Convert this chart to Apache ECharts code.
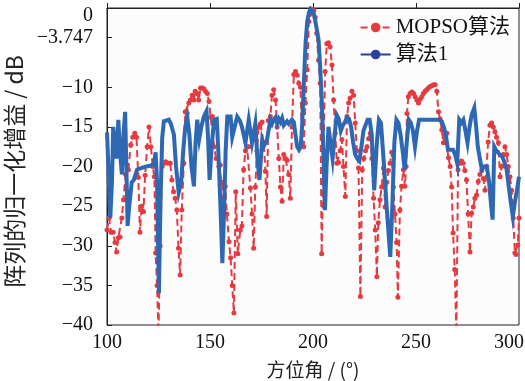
<!DOCTYPE html>
<html>
<head>
<meta charset="utf-8">
<script src="https://cdn.jsdelivr.net/npm/echarts@6/dist/echarts.min.js"></script>
<style>
html,body{margin:0;padding:0;background:#ffffff;}
#chart{width:525px;height:381px;}
</style>
</head>
<body>
<div id="chart"></div>
<script>
// ---- data ----
const seriesNames = ['MOPSO算法', '算法1'];
const yTickValues = [-40, -35, -30, -25, -20, -15, -10, -3.747, 0];
const xTickValues = [100, 150, 200, 250, 300];

const mopsoAngle = [100,101,102,103,103.9,104.7,105.5,106.3,107.2,108,109,110.4,111.5,112.5,113.5,114.3,115.2,116,116.8,117.7,118.5,119.5,120.4,121.3,122.2,123,123.6,124.3,125,125.8,126.8,127.6,128.5,129.5,130.7,131.5,132.3,133.1,133.9,134.7,135.5,136.3,137.3,138,138.9,139.7,140.5,141.4,142.2,142.8,143.8,144.5,145.4,146.2,147,147.8,148.7,149.5,150.3,151.1,152,153,154.3,155,155.8,156.6,157.4,158.2,159.2,160,160.8,161.6,162.5,163.5,164.7,165.5,166.3,167.2,168,168.8,169.6,170.4,171.2,172,172.8,173.6,174.5,175.3,176.1,176.9,177.5,178.3,179.3,180.1,180.9,181.8,182.6,183.4,184.2,185,185.8,186.6,187.4,188.2,189,189.8,190.7,191.5,192.3,193.1,193.9,194.7,195.5,196.3,197.2,198,198.8,199.6,200.4,201.1,201.8,202.7,203.5,204.2,205.1,205.9,206.7,207.5,208.3,209.2,210,210.8,211.6,212.4,213.2,214,214.8,215.7,216.5,217.3,218,218.9,219.7,220.5,221.3,222.1,223,223.9,224.7,225.5,226.2,227,227.8,228.6,229.4,230.2,231,231.7,232.5,233.3,234.2,235,235.8,236.6,237.4,238.2,239,239.8,240.6,241.2,242.2,243,243.9,244.6,245.2,245.6,246.3,247.1,248,248.8,249.6,250.4,251.2,252,252.8,253.6,254.4,255.2,256,256.9,257.7,258.5,259.3,260.1,260.9,261.7,262.5,263.3,264.1,265,265.8,266.6,267.3,268,268.8,269.6,270.4,271.3,272.1,272.9,273.7,274.5,275.3,276.2,277,277.8,278.6,279.4,280.2,281,281.9,282.7,283.5,284.3,285,285.9,286.7,287.5,288.3,289.1,290,290.8,291.6,292.4,293.2,294,294.8,295.6,296.4,297.2,298,298.6,299.4,300];
const mopsoGain = [-28,-26.5,-28.3,-28.3,-29.6,-30.8,-29,-28.9,-26.5,-24.2,-21,-20.4,-17.3,-16.3,-15.8,-16.3,-21.4,-28.3,-25,-25.7,-21.1,-17.5,-15,-17.5,-20,-21.3,-30.9,-35,-41,-30,-20,-19.6,-19.4,-19.6,-19.6,-21.7,-23.2,-24,-25.5,-30.3,-33.7,-25.5,-19.6,-13.1,-13.3,-12,-11.6,-11,-11.6,-10.5,-10.8,-11.6,-10.1,-10.1,-10.2,-10.5,-10.8,-11.8,-13.8,-13.7,-17.5,-19,-20,-19.8,-22,-24,-22.5,-26,-29.5,-31.5,-35,-38.5,-23.2,-31,-28,-27.5,-20.4,-18,-17.5,-17.5,-22.7,-26,-30.3,-22.6,-18,-15,-14.6,-14.4,-17,-20.6,-26.3,-14.2,-13.7,-11,-10.3,-11.6,-15,-19,-22.6,-24.4,-18.5,-19,-19.2,-21,-24,-15,-8.4,-8,-8.5,-9.5,-10,-17,-17.5,-12,-7.8,-1.7,-0.8,-0.2,-0.3,-1.2,-3.2,-6.6,-9.5,-31,-18,-8,-4.5,-4.4,-4.9,-7.2,-11.6,-15.8,-19.6,-19.5,-18,-16.6,-20,-23.8,-13.7,-12,-11.4,-10.5,-11,-14.5,-18,-20.2,-36.4,-20.4,-19,-18,-17.5,-16.5,-15.8,-19,-24,-28,-33.9,-27.1,-24.2,-22.6,-20.2,-25.1,-22,-20.5,-19.6,-18.2,-22.6,-26,-29.6,-36.5,-25.5,-22.5,-20.4,-22.5,-20,-13.3,-11.2,-10.8,-10.6,-10.8,-11.2,-11.6,-12,-11.5,-11.2,-10.8,-10.5,-10.3,-10.1,-9.9,-9.8,-9.7,-9.7,-10.5,-13.1,-14,-15.4,-17,-16,-15.8,-18.9,-20,-22.6,-28.4,-33,-41,-20.4,-19.6,-19.3,-19.6,-20.5,-21.7,-26,-30.8,-25.9,-25.1,-24,-23.6,-21.9,-21,-20.5,-21.5,-23,-20,-16.9,-14.8,-14.5,-15,-15.6,-16.3,-17,-21.3,-20,-18.5,-17.5,-18.5,-20,-21.3,-23,-26.5,-30.9,-31.1,-29.9,-26.5];

const algoAngle = [100,100.8,101.6,102.4,103,103.8,104.6,105.5,106.3,107.2,108,108.8,109.4,110,110.8,112,113,114.6,116.5,119,121,122.8,123.6,124.3,125.2,126,126.8,127.6,128.5,130,131,132.5,133.5,134.8,136,137,138,139,140,141,142.2,143,143.8,144.8,145.8,147,148.3,149,149.8,150.8,152,153.3,154.2,155.2,156,156.8,157.6,158.4,160,160.8,162,163.2,164.5,165.5,167.2,168.8,170.4,172,173,174,175.3,176,177.7,179.3,180.1,180.9,181.8,182.6,183.4,184.2,185,185.8,186.6,187.4,188.2,189,189.8,190.7,191.5,192.3,193.2,194,194.7,195.5,196.4,197.2,198,198.8,199.6,200.4,201.5,202.7,203.5,204.3,205,205.8,206.6,207.5,208.5,209.5,210.5,211.5,212.5,213.5,214.5,215.5,216.5,217.5,218.5,219.5,220.5,221.5,222.5,223.5,224.5,225.5,226.5,227.5,228.5,229.7,231,232,233,234.5,236,237.5,238.5,239.5,240.5,241.5,242.5,243.5,244.5,245.5,246.5,247.5,248.5,249.5,250.5,251.5,253,255,257,259,261,262.5,263.5,264.5,265.5,266.5,268,269,270,271,272,273,274,275,276,277,278.3,279.2,280,281,282,283,284.4,285.5,286.5,287.2,288,289,290,291,292,293,294,295,296,297,298,299,300];
const algoGain = [-15.7,-21,-26.5,-22,-15,-17,-19,-14.1,-18,-21,-16,-13.1,-20,-27.5,-25,-22,-21.7,-20.4,-20.2,-20,-19.9,-19.7,-18.2,-22,-36,-24,-16.4,-14.3,-14.1,-14.1,-14.6,-16,-20,-23.3,-22,-18,-15,-13.8,-16,-20,-22.5,-17,-14.1,-16.5,-15,-13.7,-13,-16,-21.7,-17.5,-14.1,-14,-19,-26,-32.2,-26,-18,-13.7,-13.7,-16.3,-15,-13.7,-14.2,-15,-17,-14.1,-17,-14.6,-19,-21.7,-16.8,-17.5,-16.6,-14.1,-14.6,-14.1,-13.8,-14.6,-14,-14.4,-13.9,-14.8,-15,-14.3,-14.6,-14.5,-14.1,-14.4,-16,-17.5,-17.9,-17.5,-15,-9.8,-4.4,-1.7,-0.6,-0.1,-0.1,-0.7,-2.2,-4,-7.5,-12,-18,-25.5,-20,-15,-17,-19,-16,-13.5,-14,-15.5,-14.8,-14.4,-13.8,-14,-15,-17,-18.5,-19,-19.3,-17.5,-15.5,-14.8,-14.1,-14.1,-16,-23,-17,-14.1,-14.5,-20,-26,-31.4,-25,-17,-14.1,-14.5,-16,-18,-20.4,-17,-14.1,-14.5,-15.5,-17.5,-15.5,-14.1,-14.1,-14.1,-14.1,-14.1,-14.1,-14.3,-15,-16,-17.9,-17.9,-17.9,-18.5,-19.6,-14.1,-14.5,-14.1,-15.5,-17,-15,-13.5,-12.6,-15,-17.5,-19,-20.4,-20,-20,-22,-25,-26.7,-17.5,-18,-18.3,-18.6,-18.8,-19.5,-20.4,-22.5,-24.5,-26.3,-24.5,-23,-21.3];

// ---- chart ----
const serif = "'Liberation Serif','Times New Roman','Noto Sans CJK SC',serif";
const cjk = "'Noto Sans CJK SC','Liberation Serif',sans-serif";
const fmtY = v => { const n = Number(v); return n < 0 ? '\u2212' + String(Math.abs(n)) : String(n); };
const fmtX = v => (Number(v) === 300 ? String(v) + '\u2003' : String(v));
const zip = (a, b) => a.map((x, i) => [x, b[i]]);

const chart = echarts.init(document.getElementById('chart'), null, {renderer: 'canvas'});
chart.setOption({
  animation: false,
  backgroundColor: '#ffffff',
  grid: {left: 107, right: 6, top: 8, bottom: 56, show: true, borderColor: '#222', borderWidth: 1,
         backgroundColor: '#fcfcfc', containLabel: false, outerBoundsMode: 'none'},
  legend: {
    right: 10, top: 12, orient: 'vertical', itemWidth: 30, itemHeight: 12, itemGap: 6,
    textStyle: {fontFamily: serif, fontSize: 21, color: '#111'},
    data: [
      {name: seriesNames[0]},
      {name: seriesNames[1], lineStyle: {color: '#2b3f9c'}, itemStyle: {color: '#2b3f9c'}}
    ]
  },
  xAxis: {
    type: 'value', min: 100, max: 300, interval: 50,
    name: '方位角 / (°)', nameLocation: 'middle', nameGap: 35,
    nameTextStyle: {fontFamily: cjk, fontSize: 19, color: '#222'},
    axisLine: {lineStyle: {color: '#222', width: 1}},
    axisTick: {inside: true, length: 5, lineStyle: {color: '#222'}},
    axisLabel: {fontFamily: serif, fontSize: 20, color: '#111', margin: 8, customValues: xTickValues,
                formatter: fmtX, showMinLabel: true, showMaxLabel: true},
    splitLine: {show: false}
  },
  yAxis: {
    type: 'value', min: -40, max: 0, interval: 5,
    name: '阵列的归一化增益 / dB', nameLocation: 'middle', nameGap: 79,
    nameTextStyle: {fontFamily: cjk, fontSize: 23, color: '#222', padding: [0, 10, 0, 0]},
    axisLine: {show: true, lineStyle: {color: '#222', width: 1}},
    axisTick: {show: true, inside: true, length: 5, customValues: yTickValues, lineStyle: {color: '#222'}},
    axisLabel: {fontFamily: serif, fontSize: 20, lineHeight: 16, color: '#111', margin: 14, customValues: yTickValues,
                formatter: fmtY, verticalAlignMaxLabel: 'top', showMinLabel: true, showMaxLabel: true},
    splitLine: {show: false}
  },
  series: [
    {
      name: seriesNames[0], type: 'line', data: zip(mopsoAngle, mopsoGain),
      symbol: 'circle', symbolSize: 5, showSymbol: true,
      lineStyle: {color: '#e53a40', width: 2, type: [7, 4]},
      itemStyle: {color: '#e53a40'}, z: 2
    },
    {
      name: seriesNames[1], type: 'line', data: zip(algoAngle, algoGain),
      showSymbol: false, symbol: 'none',
      lineStyle: {color: '#2e68b3', width: 4, join: 'miter'},
      itemStyle: {color: '#2e68b3'}, z: 3
    }
  ]
});
</script>
</body>
</html>
